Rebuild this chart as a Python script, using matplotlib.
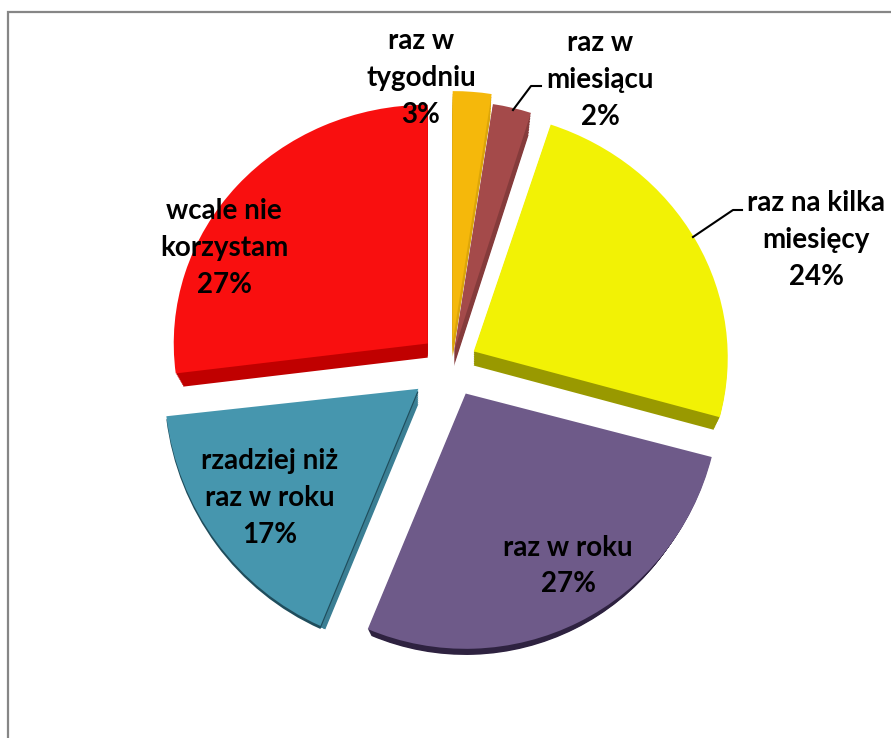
import matplotlib
matplotlib.use("Agg")
from matplotlib import pyplot as plt
from matplotlib.transforms import Affine2D

# udzialy (etykiety sa zaokraglone osobno)
categories = ["raz w\ntygodniu", "raz w\nmiesiącu", "raz na kilka\nmiesięcy",
              "raz w roku", "rzadziej niż\nraz w roku", "wcale nie\nkorzystam"]
values = [2.45, 2.45, 24.1, 27.3, 16.7, 27.0]
pct_labels = ["3%", "2%", "24%", "27%", "17%", "27%"]

# wysuniecie w pikselach (pie nie skaluje tego przez radius)
explode = [22, 13, 26, 33, 41, 31]
top_colors = ["#f5b80b", "#a44a4a", "#f2f205", "#6e5a89", "#4696ae", "#f90f0f"]
side_colors = ["#dca509", "#853b3b", "#999900", "#2e2240", "#3b7f94", "#c00000"]
# ciemny dolny luk tylko na turkusowym kawalku
arc_colors = ["none", "none", "none", "none", "#1f4d5c", "none"]
# perspektywa: sciesnienie w pionie i pochylenie kazdego kawalka
squash = [0.988, 0.985, 0.945, 1.005, 1.02, 0.94]
shear = [0, 0, -0.025, 0, -0.02, 0]
layer_scale = [0.97, 0.97, 0.975, 0.965, 0.95, 0.97]

# srodki etykiet w pikselach obrazka
label_xy = [(421, 78), (600, 80), (816, 240), (568, 566), (270, 498), (224, 248)]

H = 738
CENTER = (451, H - 364)
RADIUS = 254
DEPTH = 15


def draw_pie(ax, colors, shift, use_scale):
    wedges, _ = ax.pie(values, explode=explode, colors=colors, startangle=90, counterclock=False,
                       center=CENTER, radius=RADIUS, wedgeprops={"linewidth": 0})
    for i, w in enumerate(wedges):
        cx, cy = w.center
        scale = 1 - (1 - layer_scale[i]) * use_scale
        w.set_center((cx, cy - shift))
        w.set_radius(RADIUS * scale)
        persp = Affine2D().translate(-cx, -cy) + Affine2D.from_values(1, shear[i], 0, squash[i], 0, 0) + Affine2D().translate(cx, cy)
        w.set_transform(persp + ax.transData)


fig = plt.figure(figsize=(8.91, 7.38), dpi=100)
ax = fig.add_axes([0, 0, 1, 1])

# boczna scianka - kilka warstw jedna na drugiej
n_layers = 8
for k in range(n_layers, 0, -1):
    draw_pie(ax, side_colors, DEPTH * k / n_layers, k / n_layers)
draw_pie(ax, arc_colors, 3, 0)
draw_pie(ax, top_colors, 0, 0)

ax.set_aspect("auto")
ax.set_xlim(0, 891)
ax.set_ylim(0, H)

# ramka wykresu
ax.plot([8, 8, 891], [0, H - 12, H - 12], color="#868686", lw=1.6, solid_joinstyle="miter", clip_on=False)

# linie odniesienia
ax.plot([513, 531, 541], [H - 110, H - 86, H - 86], color="black", lw=1.5)
ax.plot([693, 733, 742], [H - 237, H - 210, H - 210], color="black", lw=1.5)

for name, pct, (x, y) in zip(categories, pct_labels, label_xy):
    ax.text(x, H - y, name + "\n" + pct, ha="center", va="center", family="Lato", weight="bold",
            fontsize=20, color="black", linespacing=1.52)

fig.savefig("out.png", dpi=100)
